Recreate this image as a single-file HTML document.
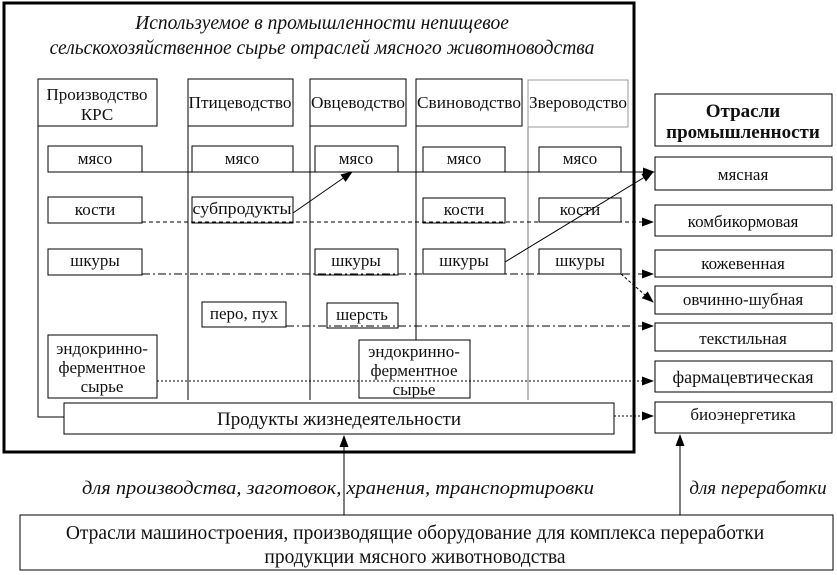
<!DOCTYPE html>
<html><head><meta charset="utf-8"><style>
body{margin:0;background:#fff}
svg{display:block}
text{font-family:"Liberation Serif","DejaVu Serif",serif;fill:#111}
</style></head><body>
<svg width="837" height="575" viewBox="0 0 837 575" xmlns="http://www.w3.org/2000/svg">
<defs><marker id="a" markerWidth="12" markerHeight="9" refX="11" refY="4.5" orient="auto" markerUnits="userSpaceOnUse"><path d="M0,0 L12,4.5 L0,9 z" fill="#000"/></marker></defs>
<rect x="4" y="3" width="630" height="449" fill="#fff" stroke="#000" stroke-width="3"/>
<text x="322" y="29" font-size="19.5" font-style="italic" text-anchor="middle">Используемое в промышленности непищевое</text>
<text x="322" y="54" font-size="19.5" font-style="italic" text-anchor="middle">сельскохозяйственное сырье отраслей мясного животноводства</text>
<g stroke="#000" fill="none" stroke-width="1">
<polyline points="38,126 38,417 64,417"/>
<line x1="188" y1="126" x2="188" y2="400"/>
<line x1="310" y1="126" x2="310" y2="400"/>
<line x1="416" y1="126" x2="416" y2="340"/>
<line x1="528" y1="127" x2="528" y2="400" stroke="#777"/>
</g>
<g fill="#fff" stroke="#000">
<rect x="38" y="79" width="119" height="47"/>
<rect x="188" y="79" width="105" height="47"/>
<rect x="310" y="79" width="96" height="47"/>
<rect x="416" y="79" width="106" height="47"/>
<rect x="528" y="80" width="100" height="47" stroke="#999"/>
<rect x="48" y="146" width="94" height="26"/>
<rect x="48" y="197" width="94" height="26"/>
<rect x="48" y="249" width="94" height="26"/>
<rect x="192" y="146" width="101" height="26"/>
<rect x="192" y="197" width="101" height="26"/>
<rect x="315" y="146" width="83" height="26"/>
<rect x="315" y="249" width="83" height="26"/>
<rect x="423" y="147" width="82" height="25"/>
<rect x="423" y="198" width="82" height="25"/>
<rect x="423" y="249" width="82" height="25"/>
<rect x="539" y="147" width="82" height="25"/>
<rect x="539" y="198" width="82" height="24"/>
<rect x="539" y="249" width="82" height="25"/>
<rect x="202" y="302" width="84" height="25"/>
<rect x="327" y="303" width="71" height="25"/>
<rect x="48" y="335" width="109" height="63"/>
<rect x="359" y="340" width="111" height="58"/>
<rect x="64" y="403" width="550" height="31"/>
<rect x="655" y="94" width="177" height="52"/>
<rect x="655" y="157" width="177" height="33"/>
<rect x="655" y="205" width="177" height="31"/>
<rect x="655" y="250" width="177" height="27"/>
<rect x="655" y="286" width="177" height="28"/>
<rect x="655" y="323" width="177" height="28"/>
<rect x="655" y="361" width="177" height="31"/>
<rect x="655" y="402" width="177" height="31"/>
<rect x="20" y="515" width="813" height="55"/>
</g>
<g stroke="#000" fill="none">
<line x1="48" y1="172" x2="654" y2="172" marker-end="url(#a)"/>
<line x1="293" y1="213" x2="352" y2="172" marker-end="url(#a)"/>
<line x1="505" y1="262" x2="653" y2="172" marker-end="url(#a)"/>
<line x1="142" y1="222" x2="653" y2="222" stroke-dasharray="4,3" marker-end="url(#a)"/>
<line x1="142" y1="274" x2="653" y2="274" stroke-dasharray="8,3,2,3" marker-end="url(#a)"/>
<line x1="621" y1="274" x2="653" y2="302" stroke-dasharray="3,2" marker-end="url(#a)"/>
<line x1="286" y1="326" x2="653" y2="326" stroke-dasharray="8,3,2,3" marker-end="url(#a)"/>
<line x1="157" y1="381" x2="653" y2="381" stroke-dasharray="2,2" marker-end="url(#a)"/>
<line x1="614" y1="416" x2="653" y2="416" stroke-dasharray="2,2" marker-end="url(#a)"/>
<line x1="344" y1="515" x2="344" y2="436" marker-end="url(#a)"/>
<line x1="680" y1="515" x2="680" y2="435" marker-end="url(#a)"/>
</g>
<g font-size="17" text-anchor="middle">
<text x="97" y="100">Производство</text><text x="97" y="120">КРС</text>
<text x="240" y="108" textLength="103" lengthAdjust="spacingAndGlyphs">Птицеводство</text>
<text x="358" y="108" textLength="94" lengthAdjust="spacingAndGlyphs">Овцеводство</text>
<text x="469" y="108" textLength="104" lengthAdjust="spacingAndGlyphs">Свиноводство</text>
<text x="578" y="108" textLength="98" lengthAdjust="spacingAndGlyphs">Звероводство</text>
<text x="95" y="164">мясо</text><text x="95" y="215">кости</text><text x="95" y="266">шкуры</text>
<text x="242" y="164">мясо</text><text x="242" y="214" textLength="99" lengthAdjust="spacingAndGlyphs">субпродукты</text>
<text x="356" y="164">мясо</text><text x="356" y="266">шкуры</text>
<text x="464" y="164">мясо</text><text x="464" y="215">кости</text><text x="464" y="266">шкуры</text>
<text x="580" y="164">мясо</text><text x="580" y="215">кости</text><text x="580" y="266">шкуры</text>
<text x="244" y="319">перо, пух</text><text x="362" y="320">шерсть</text>
<text x="102" y="354">эндокринно-</text><text x="102" y="373">ферментное</text><text x="102" y="392">сырье</text>
<text x="414" y="357">эндокринно-</text><text x="414" y="376">ферментное</text><text x="414" y="395">сырье</text>
<text x="339" y="425" font-size="19">Продукты жизнедеятельности</text>
<text x="743" y="117" font-size="19" font-weight="bold">Отрасли</text>
<text x="743" y="138" font-size="19" font-weight="bold">промышленности</text>
<text x="743" y="180">мясная</text>
<text x="743" y="227">комбикормовая</text>
<text x="743" y="269">кожевенная</text>
<text x="743" y="305">овчинно-шубная</text>
<text x="743" y="344">текстильная</text>
<text x="743" y="383" font-size="18">фармацевтическая</text>
<text x="743" y="420">биоэнергетика</text>
<text x="338" y="494" font-size="19" font-style="italic" textLength="512" lengthAdjust="spacingAndGlyphs">для производства, заготовок, хранения, транспортировки</text>
<text x="758" y="494" font-size="19" font-style="italic">для переработки</text>
<text x="415" y="539" font-size="19.5">Отрасли машиностроения, производящие оборудование для комплекса переработки</text>
<text x="415" y="563" font-size="19.5">продукции мясного животноводства</text>
</g>
</svg>
</body></html>
